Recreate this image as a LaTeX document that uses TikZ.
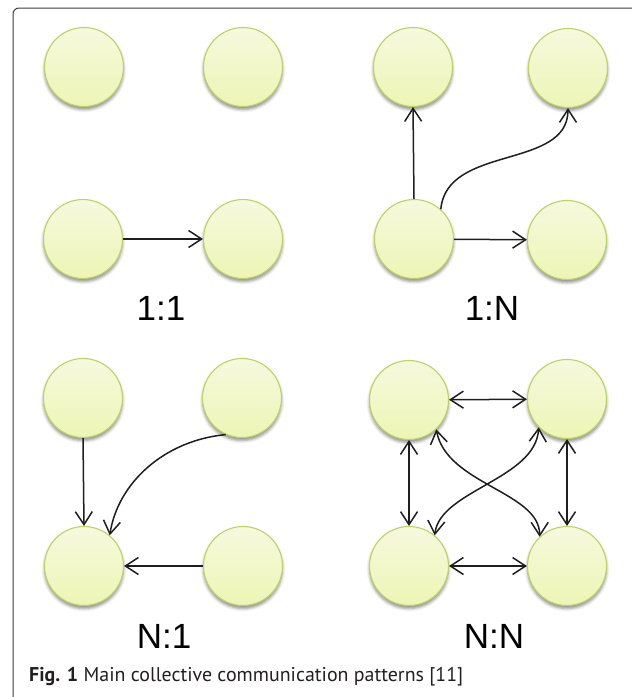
\documentclass[tikz,border=0pt]{standalone}
\usepackage{fontspec}
\setmainfont{Liberation Sans}
\newfontfamily\capfont{PT Sans}
\usetikzlibrary{arrows.meta,shadows.blur}

\definecolor{ringgreen}{HTML}{BCD45E}
\definecolor{filltop}{HTML}{F6F9DE}
\definecolor{fillbot}{HTML}{EDF5B4}
\definecolor{inkline}{HTML}{1E1E1E}
\definecolor{framegray}{HTML}{3C3C3C}
\definecolor{captext}{HTML}{231F20}

% caption text, set so that it runs 434pt wide
\newcommand{\captiontext}{\textbf{Fig. 1} Main collective communication patterns [11]}
\newlength{\capwidth}
\settowidth{\capwidth}{\capfont\fontsize{17}{17}\selectfont\captiontext}

\tikzset{
  proc/.style={circle, minimum size=79pt, inner sep=0pt, draw=ringgreen,
    line width=1.1pt, top color=filltop, bottom color=fillbot,
    blur shadow={shadow xshift=0pt, shadow yshift=-3pt,
      shadow blur radius=3pt, shadow opacity=45}},
  barb/.tip={Straight Barb[length=13pt,width=17pt]},
  link/.style={draw=inkline, line width=1.5pt, -barb},
  twoway/.style={draw=inkline, line width=1.5pt, barb-barb},
  ratio/.style={font=\fontsize{35}{35}\selectfont, anchor=base, inner sep=0pt},
}

\begin{document}
\pgfmathsetmacro{\capsize}{17*434/\capwidth}
\begin{tikzpicture}[x=1pt,y=-1pt]
  \useasboundingbox (0,0) rectangle (632,697);

  % frame
  \draw[framegray, line width=1pt, rounded corners=6pt]
    (13,697) -- (13,8) -- (632,8);

  % 1:1
  \node[proc] (a1) at (84,67) {};
  \node[proc] (a2) at (243,67) {};
  \node[proc] (a3) at (83,239) {};
  \node[proc] (a4) at (243,239) {};
  \draw[link] (a3) -- (a4);
  \node[ratio] (l11) at (161,320) {1:1};

  % 1:N
  \node[proc] (b1) at (413,67) {};
  \node[proc] (b2) at (568,68) {};
  \node[proc] (b3) at (414,239) {};
  \node[proc] (b4) at (567,240) {};
  \draw[link] (b3.north) -- (b1.south);
  \draw[link] (b3) -- (b4);
  \draw[link] (b3.48) .. controls +(6,-65) and +(0,62) .. (b2.south);
  \node[ratio] (l1n) at (492,320) {1:N};

  % N:1
  \node[proc] (c1) at (83,398) {};
  \node[proc] (c2) at (242,398) {};
  \node[proc] (c3) at (84,566) {};
  \node[proc] (c4) at (243,566) {};
  \draw[link] (c1.south) -- (c3.north);
  \draw[link] (c4) -- (c3);
  \draw[link] (c2.246) .. controls +(-62,6) and +(8,-52) .. (c3.50);
  \node[ratio] (ln1) at (164,648) {N:1};

  % N:N
  \node[proc] (d1) at (409,400) {};
  \node[proc] (d2) at (567,399) {};
  \node[proc] (d3) at (409,566) {};
  \node[proc] (d4) at (567,566) {};
  \draw[twoway] (d1) -- (d2);
  \draw[twoway] (d3) -- (d4);
  \draw[twoway] (d1.south) -- (d3.north);
  \draw[twoway] (d2.south) -- (d4.north);
  \draw[twoway] (d1.-47) .. controls +(10,55) and +(0,-45) .. (d4.133);
  \draw[twoway] (d2.225) .. controls +(-3,52) and +(5,-45) .. (d3.50);
  \node[ratio] (lnn) at (494,648) {N:N};

  % caption
  \node[anchor=base west, inner sep=0pt, text=captext,
        font=\capfont\fontsize{\capsize pt}{\capsize pt}\selectfont] (cap) at (29,681)
    {\captiontext};
\end{tikzpicture}
\end{document}
